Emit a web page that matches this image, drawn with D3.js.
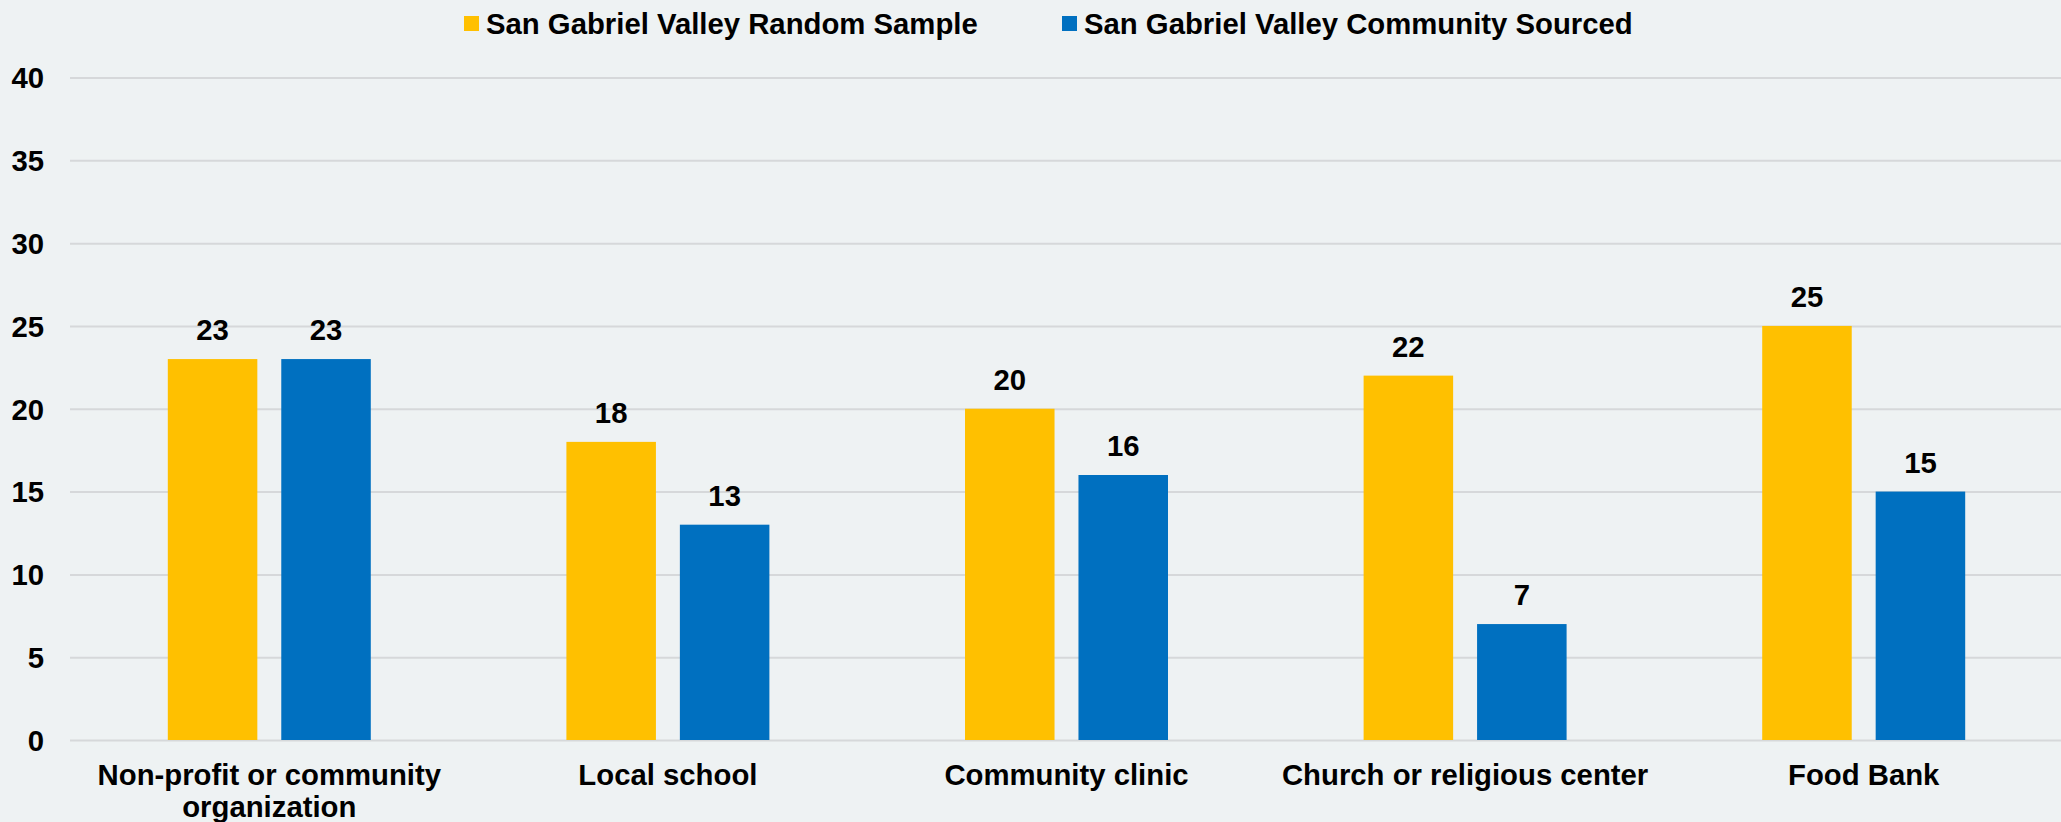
<!DOCTYPE html>
<html>
<head>
<meta charset="utf-8">
<script src="https://cdn.jsdelivr.net/npm/d3@7"></script>
<style>
  html, body { margin: 0; padding: 0; background: #eef2f3; }
  svg { display: block; }
  text { font-family: "Liberation Sans", Arial, sans-serif; font-weight: bold; fill: #000; }
</style>
</head>
<body>
<svg id="chart" width="2061" height="822"></svg>
<script>
const categories = ["Non-profit or community organization", "Local school", "Community clinic", "Church or religious center", "Food Bank"];
const seriesNames = ["San Gabriel Valley Random Sample", "San Gabriel Valley Community Sourced"];
const randomSample = [23, 18, 20, 22, 25];
const communitySourced = [23, 13, 16, 7, 15];
const yTicks = [0, 5, 10, 15, 20, 25, 30, 35, 40];
const colors = ["#FFC000", "#0070C0"];

const W = 2061, H = 822;
const svg = d3.select("#chart");
svg.append("rect").attr("width", W).attr("height", H).attr("fill", "#eef2f3");

const plotLeft = 70, plotRight = 2063, plotTop = 77.5, plotBottom = 740;
const FS = 29.3;

const x0 = d3.scaleBand().domain(categories).range([plotLeft, plotRight]).paddingInner(0).paddingOuter(0);
const x1 = d3.scaleBand().domain(seriesNames).range([0, x0.bandwidth()]).paddingInner(0.211).paddingOuter(0.862);
const y = d3.scaleLinear().domain([0, 40]).range([plotBottom, plotTop]);

// gridlines
const grid = svg.append("g")
  .attr("transform", `translate(${plotLeft},0)`)
  .call(d3.axisLeft(y).tickValues(yTicks).tickSize(-(plotRight - plotLeft)).tickFormat(""));
grid.select(".domain").remove();
grid.selectAll(".tick line").attr("stroke", "#d6d8da").attr("stroke-width", 2);

// y labels
const yAxis = svg.append("g")
  .attr("transform", `translate(${plotLeft},0)`)
  .call(d3.axisLeft(y).tickValues(yTicks).tickSize(0).tickPadding(26));
yAxis.select(".domain").remove();
yAxis.selectAll("text")
  .attr("font-size", FS)
  .attr("font-family", '"Liberation Sans", Arial, sans-serif')
  .attr("font-weight", "bold")
  .attr("fill", "#000")
  .attr("dy", "0.35em");

// data table
const table = categories.map((c, i) => ({
  cat: c,
  vals: [ {s: seriesNames[0], v: randomSample[i], k: 0}, {s: seriesNames[1], v: communitySourced[i], k: 1} ]
}));

const groups = svg.append("g").selectAll("g").data(table).join("g")
  .attr("transform", d => `translate(${x0(d.cat)},0)`);

groups.selectAll("rect").data(d => d.vals).join("rect")
  .attr("x", d => x1(d.s))
  .attr("width", x1.bandwidth())
  .attr("y", d => y(d.v))
  .attr("height", d => y(0) - y(d.v))
  .attr("fill", d => colors[d.k]);

groups.selectAll("text.val").data(d => d.vals).join("text")
  .attr("class", "val")
  .attr("x", d => x1(d.s) + x1.bandwidth() / 2)
  .attr("y", d => y(d.v) - 19)
  .attr("text-anchor", "middle")
  .attr("font-size", FS)
  .text(d => d.v);

// x axis labels (wrapped)
const xAxis = svg.append("g")
  .attr("transform", `translate(0,${plotBottom})`)
  .call(d3.axisBottom(x0).tickSize(0).tickPadding(0));
xAxis.select(".domain").remove();
xAxis.selectAll("text").remove();
xAxis.selectAll(".tick").each(function(d) {
  const t = d3.select(this).append("text")
    .attr("text-anchor", "middle")
    .attr("font-size", FS)
    .attr("y", 45);
  const words = d.split(" ");
  const maxW = x0.bandwidth() - 20;
  let line = [], lineNo = 0;
  let tspan = t.append("tspan").attr("x", 0).attr("y", 45);
  words.forEach(w => {
    line.push(w);
    tspan.text(line.join(" "));
    if (tspan.node().getComputedTextLength() > maxW && line.length > 1) {
      line.pop();
      tspan.text(line.join(" "));
      line = [w];
      lineNo++;
      tspan = t.append("tspan").attr("x", 0).attr("y", 45 + lineNo * 32).text(w);
    }
  });
});

// legend
const legendItems = [
  {name: seriesNames[0], color: colors[0], x: 464},
  {name: seriesNames[1], color: colors[1], x: 1062}
];
const lg = svg.append("g").selectAll("g").data(legendItems).join("g")
  .attr("transform", d => `translate(${d.x},0)`);
lg.append("rect").attr("x", 0).attr("y", 16).attr("width", 15).attr("height", 15).attr("fill", d => d.color);
lg.append("text").attr("x", 22).attr("y", 33.5).attr("font-size", FS).text(d => d.name);
</script>
</body>
</html>
